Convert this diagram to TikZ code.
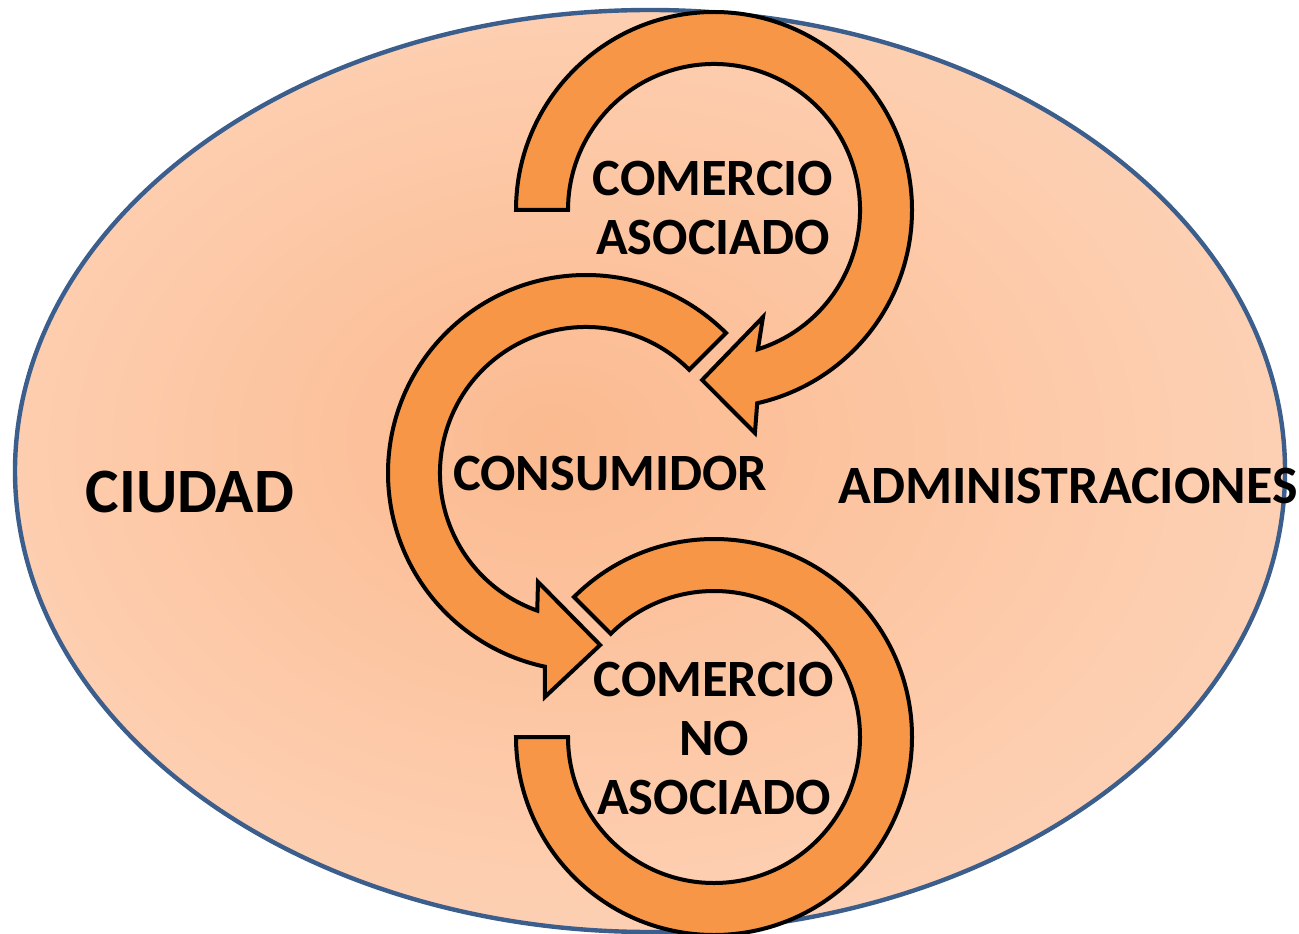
\documentclass[tikz,border=0pt]{standalone}
\usepackage{fontspec}
\setmainfont{Carlito}
\definecolor{arrowfill}{HTML}{F79646}
\definecolor{rimblue}{HTML}{3B5E8C}
\definecolor{shadeIn}{HTML}{FBBA90}
\definecolor{shadeMid}{HTML}{FDCDAE}
\definecolor{shadeOut}{HTML}{FEE0CF}
\pgfdeclareradialshading{ellshade}{\pgfpoint{-4bp}{2bp}}{color(0bp)=(shadeIn); color(22bp)=(shadeMid); color(50bp)=(shadeOut)}
\tikzset{
  cyclearrow/.style={fill=arrowfill, draw=black, line width=2pt, line join=miter},
  midlabel/.style={inner sep=0pt, align=center, font=\bfseries\fontsize{26.2}{29.5}\selectfont},
  sidelabel/.style={inner sep=0pt, font=\bfseries\fontsize{27}{30}\selectfont},
}
\begin{document}
\begin{tikzpicture}[x=0.5pt, y=0.5pt]
\useasboundingbox (0,0) rectangle (1299,933);
% city ellipse
\shade[shading=ellshade] (650,462) ellipse [x radius=635, y radius=461];
\draw[rimblue, line width=2.2pt] (650,462) ellipse [x radius=635, y radius=461];
% centres of the three rings
\coordinate (c1) at (714,723);
\coordinate (c2) at (586,460);
\coordinate (c3) at (714,196);
% arrow 1: comercio asociado -> consumidor
\draw[cyclearrow] ([shift={(180:198)}]c1) arc[start angle=180, end angle=-77.4, radius=198]
  -- ([shift={(-79.6:226.7)}]c1)
  -- ([shift={(-94:170.4)}]c1)
  -- ([shift={(-65.4:117.7)}]c1)
  -- ([shift={(-72.5:146)}]c1)
  arc[start angle=-72.5, end angle=180, radius=146] -- cycle;
% arrow 2: consumidor -> comercio no asociado
\draw[cyclearrow] ([shift={(45:198)}]c2) arc[start angle=45, end angle=258, radius=198]
  -- ([shift={(259.6:227.7)}]c2)
  -- ([shift={(274.7:172.6)}]c2)
  -- ([shift={(246.2:119)}]c2)
  -- ([shift={(250.5:146)}]c2)
  arc[start angle=250.5, end angle=45, radius=146] -- cycle;
% ring 3: comercio no asociado
\draw[cyclearrow] ([shift={(135:198)}]c3) arc[start angle=135, end angle=-180, radius=198]
  -- ([shift={(180:146)}]c3)
  arc[start angle=-180, end angle=135, radius=146] -- cycle;
% labels
\node[midlabel] (asoc) at (713,725) {COMERCIO\\ASOCIADO};
\node[midlabel] (cons) at (610,459) {CONSUMIDOR};
\node[midlabel] (noasoc) at (714,195) {COMERCIO\\NO\\ASOCIADO};
\node[inner sep=0pt, font=\bfseries\fontsize{31.6}{34}\selectfont] (ciudad) at (190,441) {CIUDAD};
\node[sidelabel] (admin) at (1068,447) {ADMINISTRACIONES};
\end{tikzpicture}
\end{document}
